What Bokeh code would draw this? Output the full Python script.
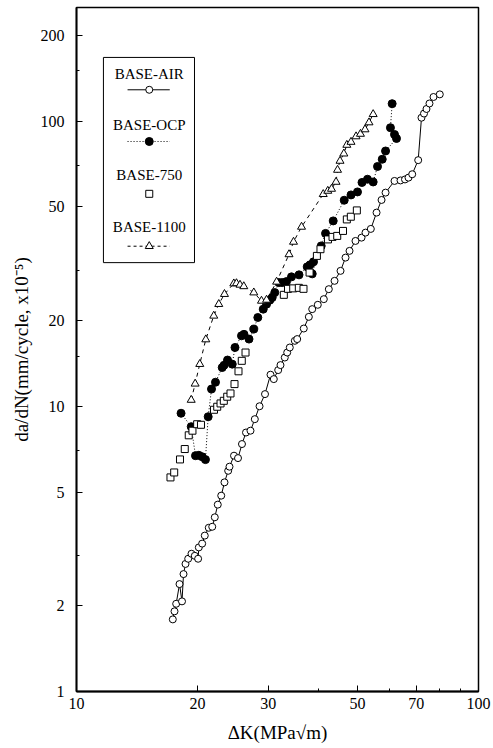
import math
from bokeh.plotting import figure
from bokeh.models import Range1d, FixedTicker, PrintfTickFormatter, BoxAnnotation, Label
from bokeh.embed import file_html
from bokeh.resources import INLINE

# ---------------- data ----------------
air_dk = [17.36, 17.53, 17.70, 18.04, 18.30, 18.46, 18.67, 18.96, 19.32, 19.69,
          20.07, 20.15, 20.54, 20.85, 21.33, 21.76, 22.08, 22.46, 22.91, 23.34,
          23.84, 24.02, 24.65, 25.22, 25.80, 26.40, 27.09, 27.77, 28.53, 29.44,
          30.38, 30.96, 31.75, 32.17, 32.97, 33.43, 33.93, 34.92, 35.40, 36.76,
          37.84, 38.58, 39.83, 41.23, 42.43, 43.84, 45.37, 46.69, 47.77, 49.43,
          51.17, 52.35, 53.97, 55.77, 57.39, 58.72, 61.81, 63.97, 65.64, 66.97,
          68.41, 70.79, 72.14, 73.18, 74.24, 75.52, 77.28, 80.11]
air_dadn = [1.79, 1.91, 2.03, 2.38, 2.07, 2.58, 2.80, 2.92, 3.04, 2.99,
            2.92, 3.20, 3.30, 3.52, 3.75, 3.78, 4.08, 4.52, 4.86, 5.41,
            5.94, 6.14, 6.71, 6.58, 7.37, 8.09, 8.21, 9.01, 10.0, 11.03,
            12.9, 12.45, 13.39, 13.94, 14.82, 15.43, 16.07, 16.96, 17.2, 18.73,
            20.58, 21.9, 22.68, 23.74, 25.73, 27.52, 29.83, 33.2, 35.05, 37.98,
            39.01, 40.62, 41.85, 47.74, 52.87, 56.1, 61.64, 61.9, 62.4, 63.31,
            65.07, 72.9, 102.7, 106.2, 110.2, 115.2, 121.4, 124.0]

ocp_dk = [18.20, 19.29, 19.77, 20.15, 20.54, 20.93, 21.26, 21.67, 22.17, 23.04,
          23.28, 23.75, 24.40, 24.79, 25.73, 26.10, 26.86, 27.61, 28.25, 29.14,
          29.70, 30.26, 30.68, 31.13, 31.86, 32.49, 33.29, 34.26, 35.77, 37.49,
          38.09, 38.87, 38.58, 40.62, 41.64, 43.51, 46.34, 48.18, 50.00, 51.31,
          52.95, 54.70, 56.08, 57.61, 58.72, 62.52, 61.81, 60.39, 60.98]
ocp_dadn = [9.45, 8.48, 6.71, 6.73, 6.65, 6.50, 9.19, 11.49, 12.14, 13.67,
            13.92, 14.52, 14.05, 16.07, 17.66, 17.87, 17.20, 18.64, 20.47, 21.90,
            22.80, 23.55, 24.05, 25.03, 27.14, 27.14, 27.36, 28.42, 28.88, 30.81,
            31.31, 32.08, 29.12, 36.49, 40.36, 44.65, 52.76, 55.06, 56.41, 60.90,
            62.50, 61.14, 69.28, 73.44, 78.50, 86.85, 89.70, 94.73, 115.0]

b750_dk = [17.13, 17.50, 18.09, 18.59, 19.02, 19.43, 19.96, 20.40, 21.98, 22.39,
           22.82, 23.25, 23.71, 24.16, 24.72, 25.29, 25.77, 26.33, 32.79, 33.58,
           34.60, 35.73, 36.70, 38.00, 39.63, 40.45, 42.23, 43.34, 44.52, 46.02,
           47.04, 48.13, 49.82]
b750_dadn = [5.63, 5.86, 6.51, 7.08, 7.91, 8.21, 8.65, 8.61, 9.72, 9.96,
             10.23, 10.45, 10.80, 11.09, 11.96, 13.26, 14.43, 15.43, 24.58, 25.80,
             25.90, 26.01, 25.80, 29.42, 33.66, 35.53, 38.45, 39.24, 39.56, 41.18,
             45.19, 46.18, 48.59]

b1100_dk = [19.29, 19.73, 20.26, 20.97, 21.95, 22.59, 23.34, 24.62, 25.00, 25.51,
            26.07, 27.61, 28.85, 29.70, 31.46, 33.78, 34.66, 36.29, 41.09, 42.18,
            43.09, 44.22, 44.60, 45.24, 46.24, 47.04, 48.18, 49.59, 50.86, 52.20,
            53.41, 54.70]
b1100_dadn = [10.52, 11.99, 14.05, 17.14, 20.75, 22.80, 24.72, 26.92, 26.97, 26.64,
              26.32, 25.03, 23.41, 23.60, 27.30, 34.07, 37.68, 42.54, 55.38, 56.86,
              57.79, 61.14, 67.36, 72.44, 76.82, 82.41, 84.42, 88.26, 90.07, 93.38,
              98.79, 105.6]

series_names = ["BASE-AIR", "BASE-OCP", "BASE-750", "BASE-1100"]
x_ticks = [10, 20, 30, 50, 70, 100]
x_minor = [40, 60, 80, 90]
y_ticks = [1, 2, 5, 10, 20, 50, 100, 200]
y_minor = [3, 7, 15, 30, 70, 150]

XMIN, XMAX = 10, 100
YMIN, YMAX = 1, 250

SERIF = "Liberation Serif"

p = figure(width=493, height=748, x_axis_type="log", y_axis_type="log",
           x_range=Range1d(XMIN, XMAX), y_range=Range1d(YMIN, YMAX),
           output_backend="svg", toolbar_location=None,
           min_border_left=76, min_border_right=15, min_border_top=7,
           min_border_bottom=57, background_fill_color="white",
           border_fill_color="white")

p.xgrid.visible = False
p.ygrid.visible = False
p.outline_line_color = "black"
p.outline_line_width = 1.5
p.outline_line_alpha = 1

p.xaxis.ticker = FixedTicker(ticks=x_ticks, minor_ticks=x_minor)
p.yaxis.ticker = FixedTicker(ticks=y_ticks, minor_ticks=y_minor)
p.xaxis.formatter = PrintfTickFormatter(format="%d")
p.yaxis.formatter = PrintfTickFormatter(format="%d")

for ax in (p.xaxis[0], p.yaxis[0]):
    ax.axis_line_color = "black"
    ax.axis_line_width = 1.8
    ax.major_tick_in = 6
    ax.major_tick_out = 0
    ax.minor_tick_in = 3
    ax.minor_tick_out = 0
    ax.major_tick_line_color = "black"
    ax.minor_tick_line_color = "black"
    ax.major_label_text_font = SERIF
    ax.major_label_text_font_size = "16px"
    ax.major_label_text_color = "black"
    ax.axis_label_text_font = SERIF
    ax.axis_label_text_font_size = "19px"
    ax.axis_label_text_font_style = "normal"
    ax.axis_label_text_color = "black"

p.xaxis.axis_label = "ΔK(MPa√m)"
p.yaxis.axis_label = "da/dN(mm/cycle, x10⁻⁵)"
p.xaxis.major_label_standoff = 6
p.xaxis.axis_label_standoff = 10
p.yaxis.major_label_standoff = 12
p.yaxis.axis_label_standoff = 6
p.yaxis.major_label_orientation = "horizontal"

# ---------------- data marks ----------------
p.line(air_dk, air_dadn, line_color="black", line_width=1)
p.scatter(air_dk, air_dadn, marker="circle", size=7, fill_color="white",
          line_color="black", line_width=1)

p.line(ocp_dk, ocp_dadn, line_color="black", line_width=1, line_dash="1 2")
p.scatter(ocp_dk, ocp_dadn, marker="circle", size=8, fill_color="black",
          line_color="black")

p.scatter(b750_dk, b750_dadn, marker="square", size=7, fill_color="white",
          line_color="black", line_width=1)

p.line(b1100_dk, b1100_dadn, line_color="black", line_width=1, line_dash="4 4")
p.scatter(b1100_dk, b1100_dadn, marker="triangle", size=8, fill_color="white",
          line_color="black", line_width=1)

# ---------------- legend (placed by fractions of the frame) ----------------
def fx(f):
    return 10 ** (math.log10(XMIN) + f * (math.log10(XMAX) - math.log10(XMIN)))

def fy(f):
    return 10 ** (math.log10(YMIN) + f * (math.log10(YMAX) - math.log10(YMIN)))

p.add_layout(BoxAnnotation(left=fx(0.067), right=fx(0.2935),
                           bottom=fy(0.627), top=fy(0.927),
                           fill_alpha=0, line_color="black",
                           line_width=1, line_alpha=1))

text_rows = [0.903, 0.8275, 0.7544, 0.6788]
sym_rows = [0.8797, 0.8041, 0.7276, 0.651]
cx = fx(0.181)
for name, fr in zip(series_names, text_rows):
    p.add_layout(Label(x=cx, y=fy(fr), text=name, text_align="center",
                       text_baseline="middle", text_font=SERIF,
                       text_font_size="15px", text_color="black"))

lx = [fx(0.127), fx(0.232)]
# AIR key
p.line(lx, [fy(sym_rows[0])] * 2, line_color="black", line_width=1)
p.scatter([cx], [fy(sym_rows[0])], marker="circle", size=7, fill_color="white",
          line_color="black")
# OCP key
p.line(lx, [fy(sym_rows[1])] * 2, line_color="black", line_width=1, line_dash="1 2")
p.scatter([cx], [fy(sym_rows[1])], marker="circle", size=8, fill_color="black",
          line_color="black")
# 750 key
p.scatter([cx], [fy(sym_rows[2])], marker="square", size=7, fill_color="white",
          line_color="black")
# 1100 key
p.line(lx, [fy(sym_rows[3])] * 2, line_color="black", line_width=1, line_dash="3 3")
p.scatter([cx], [fy(sym_rows[3])], marker="triangle", size=8, fill_color="white",
          line_color="black")

open("out.html", "w").write(file_html(p, INLINE))
